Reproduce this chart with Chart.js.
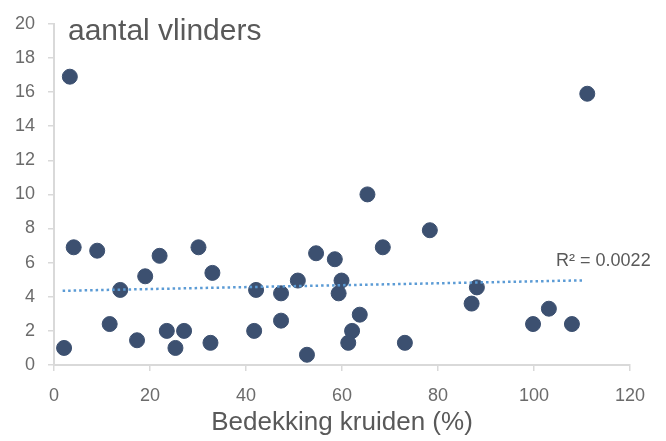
<!DOCTYPE html>
<html lang="nl">
<head>
<meta charset="UTF-8">
<title>aantal vlinders</title>
<script src="https://cdn.jsdelivr.net/npm/chart.js"></script>
<style>
  html, body { margin: 0; padding: 0; background: #ffffff; }
  #wrap { width: 666px; height: 441px; position: relative; }
</style>
</head>
<body>
<div id="wrap"><canvas id="chart" width="666" height="441"></canvas></div>
<script>
// bedekking kruiden (%) en aantal vlinders per meetpunt
const coverX = [2.1, 4.1, 9.0, 13.8, 11.6, 17.3, 19.0, 22.0, 23.5, 25.3, 27.1, 30.1, 33.0, 32.6,
                42.1, 41.7, 47.3, 47.3, 50.8, 52.7, 54.6, 58.5, 59.9, 59.3, 63.7, 62.1, 61.3,
                68.5, 78.3, 73.1, 88.1, 87.0, 99.8, 103.1, 107.9, 111.1, 65.3, 3.3];
const butterflies = [1.0, 6.9, 6.7, 4.4, 2.4, 1.45, 5.2, 6.4, 2.0, 1.0, 2.0, 6.9, 5.4, 1.3,
                     4.4, 2.0, 4.2, 2.6, 4.95, 0.6, 6.55, 6.2, 4.95, 4.2, 2.95, 2.0, 1.3,
                     6.9, 7.9, 1.3, 4.55, 3.6, 2.4, 3.3, 2.4, 15.9, 10.0, 16.9];

const trendX = [1.8, 110];
const trendY = [4.35, 4.96];
const rSquaredText = 'R² = 0.0022';

const xTicks = [0, 20, 40, 60, 80, 100, 120];
const yTicks = [0, 2, 4, 6, 8, 10, 12, 14, 16, 18, 20];

const FONT = "'Liberation Sans', Arial, sans-serif";
const GREY = '#595959';
const TICKGREY = '#6b6b6b';
const AXIS = '#d9d9d9';

const points = coverX.map((x, i) => ({ x: x, y: butterflies[i] }));
const trend = trendX.map((x, i) => ({ x: x, y: trendY[i] }));

// titel in het plotvlak en R²-label bij de trendlijn
const labelsPlugin = {
  id: 'labels',
  afterDraw(chart) {
    const ctx = chart.ctx;
    const area = chart.chartArea;
    const xs = chart.scales.x, ys = chart.scales.y;
    ctx.save();
    ctx.fillStyle = GREY;
    ctx.textBaseline = 'alphabetic';
    ctx.textAlign = 'left';
    ctx.font = '30px ' + FONT;
    ctx.fillText('aantal vlinders', area.left + 14, area.top + 16);
    ctx.font = '18px ' + FONT;
    ctx.fillText(rSquaredText, xs.getPixelForValue(104.6), ys.getPixelForValue(5.8));
    ctx.restore();
  }
};

new Chart(document.getElementById('chart'), {
  type: 'scatter',
  data: {
    datasets: [
      {
        label: 'aantal vlinders',
        data: points,
        backgroundColor: '#3c5070',
        borderColor: '#3c5070',
        pointRadius: 7.5,
        pointHoverRadius: 7.5,
        order: 1
      },
      {
        label: 'trend',
        type: 'line',
        data: trend,
        borderColor: '#5b9bd5',
        borderWidth: 2.5,
        borderDash: [2.5, 3],
        pointRadius: 0,
        fill: false,
        order: 0
      }
    ]
  },
  options: {
    responsive: false,
    animation: false,
    layout: { padding: { left: 0, right: 36, top: 17, bottom: 0 } },
    plugins: {
      legend: { display: false },
      tooltip: { enabled: false }
    },
    scales: {
      x: {
        type: 'linear',
        min: 0,
        max: 120,
        afterBuildTicks: (s) => { s.ticks = xTicks.map(v => ({ value: v })); },
        afterFit: (s) => { s.height = 76; },
        ticks: { color: TICKGREY, font: { family: FONT, size: 18 }, padding: 14 },
        grid: { drawOnChartArea: false, drawTicks: true, tickLength: 6, color: AXIS, lineWidth: 1.5 },
        border: { color: AXIS, width: 2 },
        title: {
          display: true,
          text: 'Bedekking kruiden (%)',
          color: GREY,
          font: { family: FONT, size: 26 },
          padding: { top: 0, bottom: 3 }
        }
      },
      y: {
        type: 'linear',
        min: 0,
        max: 20,
        afterBuildTicks: (s) => { s.ticks = yTicks.map(v => ({ value: v })); },
        afterFit: (s) => { s.width = 54; },
        ticks: { color: TICKGREY, font: { family: FONT, size: 18 }, padding: 13 },
        grid: { drawOnChartArea: false, drawTicks: true, tickLength: 6, color: AXIS, lineWidth: 1.5 },
        border: { color: AXIS, width: 2 }
      }
    }
  },
  plugins: [labelsPlugin]
});
</script>
</body>
</html>
